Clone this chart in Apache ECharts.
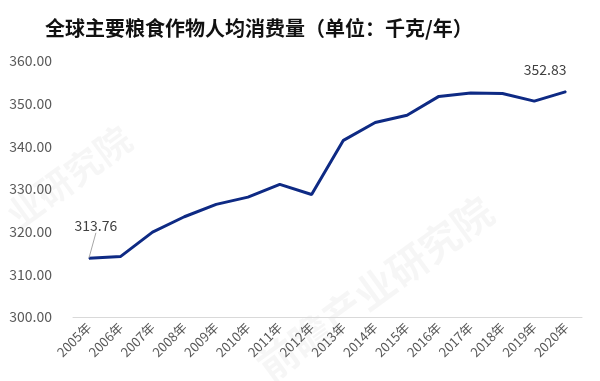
<!DOCTYPE html>
<html><head><meta charset="utf-8">
<script src="https://cdn.jsdelivr.net/npm/echarts@6/dist/echarts.min.js"></script>
<style>html,body{margin:0;padding:0;background:#fff}#c{width:600px;height:381px}</style>
</head><body><div id="c"></div>
<script>
var categories = ['2005年','2006年','2007年','2008年','2009年','2010年','2011年','2012年','2013年','2014年','2015年','2016年','2017年','2018年','2019年','2020年'];
var values = [313.76, 314.2, 319.9, 323.5, 326.4, 328.1, 331.1, 328.7, 341.4, 345.6, 347.3, 351.7, 352.5, 352.4, 350.6, 352.83];
var yTicks = {min: 300, max: 360, interval: 10};
var titleText = '全球主要粮食作物人均消费量（单位：千克/年）';

var font = '"Noto Sans CJK SC", "Noto Sans", sans-serif';
var last = values.length - 1;
var seriesData = values.map(function (v, i) {
  if (i === 0) return {value: v, label: {show: true}};
  if (i === last) return {value: v, label: {show: true}, labelLine: {show: false}};
  return v;
});
var chart = echarts.init(document.getElementById('c'));
chart.setOption({
  animation: false,
  title: {text: titleText, left: 40, top: 13, textStyle: {fontFamily: font, fontSize: 20, fontWeight: 'bold', color: '#111'}},
  graphic: [{
    type: 'text', left: 250, top: 190, rotation: Math.PI / 5, silent: true,
    style: {text: '前瞻产业研究院', fontSize: 40, fontWeight: 'bold', fill: 'rgba(0,0,0,0.035)', fontFamily: font}
  }, {
    type: 'text', left: 0, top: 120, rotation: Math.PI / 5, silent: true,
    style: {text: '业研究院', fontSize: 36, fontWeight: 'bold', fill: 'rgba(0,0,0,0.035)', fontFamily: font}
  }],
  grid: {left: 73, right: 18, top: 61, bottom: 64},
  xAxis: {
    type: 'category', data: categories, boundaryGap: true,
    axisLine: {lineStyle: {color: '#d9d9d9'}}, axisTick: {show: false},
    axisLabel: {rotate: 45, interval: 0, fontSize: 13, color: '#595959', fontFamily: font, margin: 8}
  },
  yAxis: {
    type: 'value', min: yTicks.min, max: yTicks.max, interval: yTicks.interval,
    axisLine: {show: false}, axisTick: {show: false}, splitLine: {show: false},
    axisLabel: {fontSize: 14, color: '#595959', fontFamily: font, margin: 21,
      formatter: function (v) { return v.toFixed(2); }}
  },
  series: [{
    type: 'line', data: seriesData, symbol: 'circle', symbolSize: 1, showSymbol: true, smooth: false,
    itemStyle: {color: '#0e2a84'},
    lineStyle: {color: '#0e2a84', width: 3},
    label: {show: false, position: 'top', fontSize: 14, color: '#404040', fontFamily: font,
      formatter: function (p) { return p.value.toFixed(2); }},
    labelLine: {show: true, lineStyle: {color: '#a6a6a6', width: 1}},
    labelLayout: function (p) {
      if (p.dataIndex === 0) return {dx: 7, dy: -20};
      if (p.dataIndex === last) return {dx: -21, dy: -9};
    }
  }]
});
</script></body></html>
